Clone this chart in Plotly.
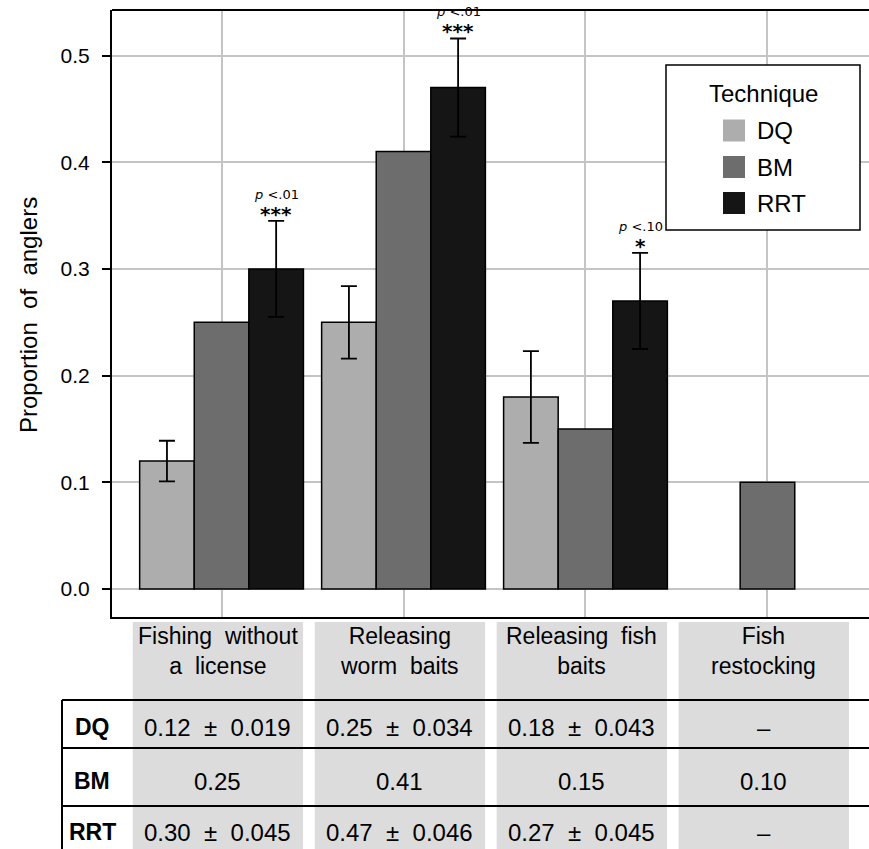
import plotly.graph_objects as go

# ---------------- data ----------------
categories = ["Fishing without a license", "Releasing worm baits",
              "Releasing fish baits", "Fish restocking"]
header_labels = ["Fishing\u00a0 without<br>a\u00a0 license", "Releasing<br>worm\u00a0 baits",
                 "Releasing\u00a0 fish<br>baits", "Fish<br>restocking"]
techniques = ["DQ", "BM", "RRT"]
dq_vals = [0.12, 0.25, 0.18, None]
dq_se = [0.019, 0.034, 0.043, None]
bm_vals = [0.25, 0.41, 0.15, 0.10]
rrt_vals = [0.30, 0.47, 0.27, None]
rrt_se = [0.045, 0.046, 0.045, None]
sig_p = ["<i>p</i> &lt;.01", "<i>p</i> &lt;.01", "<i>p</i> &lt;.10", None]
sig_stars = ["***", "***", "*", None]
y_ticks = [0.0, 0.1, 0.2, 0.3, 0.4, 0.5]

colors = {"DQ": "#adadad", "BM": "#6d6d6d", "RRT": "#151515"}
FONT = "Liberation Sans, Arial, sans-serif"

W, H = 869, 849
L, R, T, B = 112, 0, 10, 232
PW, PH = W - L - R, H - T - B


def py(p):  # pixel y -> paper y
    return (H - B - p) / PH


def px(p):  # pixel x -> paper x
    return (p - L) / PW


fig = go.Figure()

series = [("DQ", dq_vals, dq_se), ("BM", bm_vals, None), ("RRT", rrt_vals, rrt_se)]
for name, vals, se in series:
    kw = {}
    if se is not None:
        kw["error_y"] = dict(type="data", array=[s if s is not None else 0 for s in se],
                             visible=True, color="black", thickness=1.8, width=8)
    fig.add_trace(go.Bar(
        x=categories, y=vals, name=name,
        marker=dict(color=colors[name], line=dict(color="black", width=1.5)),
        showlegend=False, hoverinfo="skip", **kw))

fig.update_layout(
    width=W, height=H,
    margin=dict(l=L, r=R, t=T, b=B),
    paper_bgcolor="white", plot_bgcolor="white",
    barmode="group", bargap=0.1, bargroupgap=0,
    font=dict(family=FONT, color="#000000"),
)

fig.update_xaxes(
    type="category", range=[-0.602, 3.558],
    showgrid=True, gridcolor="#c4c4c4", gridwidth=1.5,
    showticklabels=False, ticks="",
    showline=True, linecolor="black", linewidth=2,
    zeroline=False,
)
fig.update_yaxes(
    range=[-0.0262, 0.5427],
    tickvals=y_ticks, ticktext=[f"{v:.1f}" for v in y_ticks],
    showgrid=True, gridcolor="#c4c4c4", gridwidth=1.5,
    ticks="outside", ticklen=8, tickwidth=1.5, tickcolor="black",
    tickfont=dict(size=21, family=FONT, color="#000000"),
    ticklabelstandoff=8,
    showline=True, linecolor="black", linewidth=2,
    zeroline=False,
)

shapes = []
annotations = []

# top frame line
shapes.append(dict(type="line", xref="paper", yref="paper", x0=0, x1=1, y0=1, y1=1,
                   line=dict(color="black", width=2)))

# y axis title
annotations.append(dict(text="Proportion\u00a0 of\u00a0 anglers", xref="paper", yref="paper",
                        x=px(28), y=py(315), textangle=-90, showarrow=False,
                        xanchor="center", yanchor="middle",
                        font=dict(size=24, family=FONT, color="#000000")))

# significance annotations above RRT bars
bar_w = 0.9 / 3
for i, (v, s, p, st) in enumerate(zip(rrt_vals, rrt_se, sig_p, sig_stars)):
    if v is None or p is None:
        continue
    top = v + s
    annotations.append(dict(text=f"<b>{st}</b>", x=i + bar_w, y=top, xref="x", yref="y",
                            showarrow=False, yanchor="bottom", yshift=-7,
                            font=dict(size=20, family="DejaVu Sans", color="#000000")))
    annotations.append(dict(text=p, x=i + bar_w, y=top, xref="x", yref="y",
                            showarrow=False, yanchor="bottom", yshift=17,
                            font=dict(size=13, family="DejaVu Sans", color="#000000")))

# legend (manual, to match the large square swatches)
shapes.append(dict(type="rect", xref="paper", yref="paper",
                   x0=px(666), x1=px(860), y0=py(230), y1=py(65),
                   line=dict(color="black", width=1.5), fillcolor="white", layer="above"))
annotations.append(dict(text="Technique", xref="paper", yref="paper", x=px(763), y=py(93),
                        showarrow=False, xanchor="center", yanchor="middle",
                        font=dict(size=24, family=FONT, color="#000000")))
for name, yc in zip(techniques, [130.5, 167, 203]):
    shapes.append(dict(type="rect", xref="paper", yref="paper",
                       x0=px(723), x1=px(745), y0=py(yc + 11), y1=py(yc - 11),
                       line=dict(width=0), fillcolor=colors[name], layer="above"))
    annotations.append(dict(text=name, xref="paper", yref="paper", x=px(755), y=py(yc),
                            showarrow=False, xanchor="left", yanchor="middle",
                            font=dict(size=24, family=FONT, color="#000000")))

# table below the chart
half = 0.468
for i, lab in enumerate(header_labels):
    shapes.append(dict(type="rect", xref="x", yref="paper",
                       x0=i - half - 0.02, x1=i + half - 0.02, y0=py(H + 5), y1=py(622),
                       line=dict(width=0), fillcolor="#dcdcdc", layer="below"))
    annotations.append(dict(text=lab, x=i - 0.02, xref="x", yref="paper", y=py(651),
                            showarrow=False, xanchor="center", yanchor="middle",
                            font=dict(size=23, family=FONT, color="#000000")))

for yl in [700, 748, 806]:
    shapes.append(dict(type="line", xref="paper", yref="paper", x0=px(62), x1=1,
                       y0=py(yl), y1=py(yl), line=dict(color="black", width=2)))
shapes.append(dict(type="line", xref="paper", yref="paper", x0=px(62), x1=px(62),
                   y0=py(700), y1=py(H + 5), line=dict(color="black", width=2)))


def cell(v, se):
    if v is None:
        return "\u2013"
    if se is None:
        return f"{v:.2f}"
    return f"{v:.2f}\u00a0 \u00b1\u00a0 {se:.3f}"


rows = [("DQ", dq_vals, dq_se, 727), ("BM", bm_vals, [None] * 4, 781),
        ("RRT", rrt_vals, rrt_se, 832)]
for name, vals, ses, yc in rows:
    annotations.append(dict(text=f"<b>{name}</b>", xref="paper", yref="paper",
                            x=px(92), y=py(yc), showarrow=False,
                            xanchor="center", yanchor="middle",
                            font=dict(size=23, family=FONT, color="#000000")))
    for i, (v, s) in enumerate(zip(vals, ses)):
        annotations.append(dict(text=cell(v, s), x=i - 0.02, xref="x", yref="paper", y=py(yc),
                                showarrow=False, xanchor="center", yanchor="middle",
                                font=dict(size=24, family=FONT, color="#000000")))

fig.update_layout(shapes=shapes, annotations=annotations)
fig.write_html("out.html", config={"displayModeBar": False},
               post_script="document.body.style.margin='0px';document.body.style.overflow='hidden';")
